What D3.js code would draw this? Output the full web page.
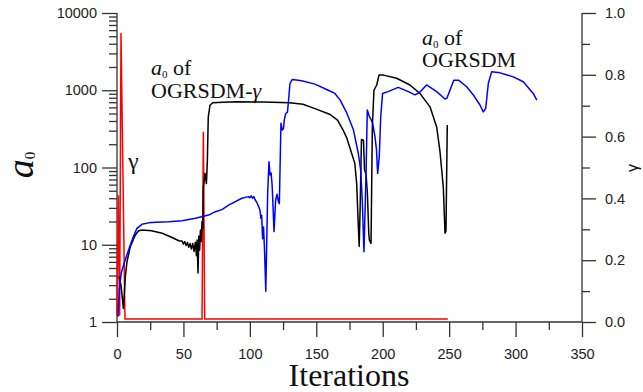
<!DOCTYPE html>
<html>
<head>
<meta charset="utf-8">
<script src="https://cdn.jsdelivr.net/npm/d3@7"></script>
<style>
  body { margin: 0; background: #fff; }
  svg { display: block; }
  .tick text { font-family: "Liberation Sans", Arial, sans-serif; font-size: 14.5px; fill: #222; }
  .tick line, .domain { stroke: #333; }
</style>
</head>
<body>
<div id="chart"></div>
<script>
// iteration ticks
var xMajorTicks = [0, 50, 100, 150, 200, 250, 300, 350];
var xMinorTicks = [25, 75, 125, 175, 225, 275, 325];
// a0 ticks (log)
var yMajorTicks = [1, 10, 100, 1000, 10000];
var yMinorTicks = [];
[1, 10, 100, 1000].forEach(function(d) { for (var k = 2; k <= 9; k++) yMinorTicks.push(d * k); });
// gamma ticks
var gMajorTicks = [0, 0.2, 0.4, 0.6, 0.8, 1.0];
var gMinorTicks = [0.1, 0.3, 0.5, 0.7, 0.9];

// a0 of OGRSDM-gamma  [iteration, a0]
var a0GammaSeries = [[1.5,3.9],[3,3.0],[4.8,1.5],[6.3,3.9],[7.5,6.0],[10,9.4],[13.8,13.4],[16.3,15.2],[19,15.5],
  [26,15.2],[34,14.1],[41,12.5],[47,11.2],[49,11.2],[50,10.2],[51,11],[52,9.8],[53,10.7],[54,9.3],[55,10.4],
  [56,8.8],[57,10.4],[58,8.2],[59,10.8],[59.8,7.2],[60.3,11.5],[61,4.3],[61.6,13],[62.2,8.5],[62.8,15.5],
  [63.4,11],[64,20],[64.6,16],[65,55],[66.2,84],[67.3,62],[68,120],[68.7,450],[70,640],[72,690],[80,700],
  [90,710],[110,705],[130,690],[140,660],[150,570],[160,490],[166,410],[170,310],[173,240],[176.6,153],
  [179,113],[180.4,62],[181.5,20],[182.3,9.5],[183,30],[184,230],[185.5,225],[186.3,95],[187.5,80],
  [188.5,45],[189.5,14],[190,11.5],[191.2,10.4],[192.2,335],[193.4,1000],[195.5,1170],[197.2,1570],
  [200.5,1570],[210.5,1430],[220.5,1170],[228,910],[235.6,610],[240.6,335],[243,167],[245.6,56],
  [246.9,14.1],[247.6,15],[248.6,355]];

// a0 of OGRSDM  [iteration, a0]
var a0Series = [[0.75,1.17],[1.7,2.6],[3.2,4.3],[5,5.5],[7.5,7.4],[10,9.9],[12.5,13],[15,16.3],[18.8,18.4],
  [23.8,19.2],[29,19.5],[39,19.9],[49,20.5],[59,22],[69,24.2],[74,26.8],[79,28.5],[84,32.5],[94,40],[99,42],
  [100,40.5],[101,43],[102,40],[103,42],[104,38],[105,36],[106,33],[107,30],[107.6,28],[108.3,22],[108.9,24],
  [109.6,12],[110.3,17],[111,9],[112,2.5],[113.4,46],[114.4,119],[115.2,80],[116,85],[116.8,58],[118.2,14.8],
  [119.4,38],[120.5,45],[121.5,36],[122.2,34],[123.4,375],[124.4,305],[125.3,320],[126,420],[127,500],
  [128.3,520],[129,700],[130.2,1230],[132,1380],[139,1330],[149,1200],[159,1000],[164,910],[168,745],
  [173,505],[178,305],[181.6,153],[183.4,93],[184.6,38],[185.9,8.1],[187.4,76],[188.4,555],[190,455],
  [191.2,420],[192.4,375],[194.2,250],[195.3,170],[196.2,84],[197.4,138],[198.5,450],[199.9,910],[204,960],
  [211.7,1090],[219.3,960],[224.3,870],[227.5,930],[233,1170],[240.6,960],[246.9,770],[248.3,790],
  [250.6,1000],[253.5,1350],[257,1350],[263.2,1110],[268.2,870],[273.2,645],[275.7,525],[277.5,580],
  [279.5,1230],[282,1730],[288.3,1680],[298.3,1490],[305.8,1290],[313.3,910],[316,745]];

// gamma  [iteration, gamma]
var gammaSeries = [[0,0.02],[1,0.41],[2,0.02],[3,0.935],[6,0.01],[64,0.01],[65,0.616],[66,0.01],[249,0.01]];

var W = 643, H = 392;
var svg = d3.select("#chart").append("svg").attr("width", W).attr("height", H);

var x = d3.scaleLinear().domain([0, 350]).range([117, 582]);
var y = d3.scaleLog().domain([1, 10000]).range([322, 13]);
var yg = d3.scaleLinear().domain([0, 1]).range([322, 13]);

// axes
function addAxis(axis, tf) {
  var g = svg.append("g").attr("transform", tf).call(axis);
  g.selectAll(".domain").remove();
  g.selectAll(".tick line").attr("stroke-width", 1.3);
  return g;
}
addAxis(d3.axisBottom(x).tickValues(xMajorTicks).tickSize(15).tickPadding(12).tickFormat(d3.format("d")), "translate(0,322)");
addAxis(d3.axisBottom(x).tickValues(xMinorTicks).tickSize(8).tickFormat(""), "translate(0,322)");
addAxis(d3.axisLeft(y).tickValues(yMajorTicks).tickSize(15).tickPadding(5).tickFormat(d3.format("d")), "translate(117,0)");
addAxis(d3.axisLeft(y).tickValues(yMinorTicks).tickSize(8).tickFormat(""), "translate(117,0)");
addAxis(d3.axisRight(yg).tickValues(gMajorTicks).tickSize(14).tickPadding(9).tickFormat(d3.format(".1f")), "translate(582,0)");
addAxis(d3.axisRight(yg).tickValues(gMinorTicks).tickSize(8).tickFormat(""), "translate(582,0)");

svg.append("line").attr("x1", 117).attr("x2", 582).attr("y1", 322).attr("y2", 322).attr("stroke", "#333").attr("stroke-width", 1.3);
svg.append("line").attr("x1", 117).attr("x2", 117).attr("y1", 13).attr("y2", 322).attr("stroke", "#333").attr("stroke-width", 1.3);
svg.append("line").attr("x1", 582).attr("x2", 582).attr("y1", 13).attr("y2", 322).attr("stroke", "#333").attr("stroke-width", 1.3);

// lines
var lineA = d3.line().x(function(d) { return x(d[0]); }).y(function(d) { return y(d[1]); });
var lineG = d3.line().x(function(d) { return x(d[0]); }).y(function(d) { return yg(d[1]); });

svg.append("path").datum(gammaSeries).attr("d", lineG).attr("fill", "none").attr("stroke", "#ff0000").attr("stroke-width", 1.5);
svg.append("path").datum(a0GammaSeries).attr("d", lineA).attr("fill", "none").attr("stroke", "#000").attr("stroke-width", 1.5).attr("stroke-linejoin", "round");
svg.append("path").datum(a0Series).attr("d", lineA).attr("fill", "none").attr("stroke", "#0000ff").attr("stroke-width", 1.5).attr("stroke-linejoin", "round");

// annotations
var serif = '"Liberation Serif", "Times New Roman", serif';
function a0Label(xp, yp, size, rest) {
  var t = svg.append("text").attr("x", xp).attr("y", yp).attr("font-family", serif).attr("font-size", size).attr("fill", "#111");
  t.append("tspan").attr("font-style", "italic").text("a");
  t.append("tspan").attr("font-size", size * 0.5).attr("dy", 3).text("0");
  t.append("tspan").attr("dy", -3).text(rest);
  return t;
}
a0Label(151, 75, 22, " of");
var t1 = svg.append("text").attr("x", 151).attr("y", 98).attr("font-family", serif).attr("font-size", 22).attr("fill", "#111");
t1.append("tspan").text("OGRSDM-");
t1.append("tspan").attr("font-style", "italic").text("γ");

a0Label(422, 45, 22, " of");
svg.append("text").attr("x", 422).attr("y", 67).attr("font-family", serif).attr("font-size", 22).attr("fill", "#111").text("OGRSDM");

svg.append("text").attr("x", 128).attr("y", 169).attr("font-family", serif).attr("font-size", 24).attr("fill", "#111").text("γ");

// axis titles
svg.append("text").attr("x", 349).attr("y", 386).attr("text-anchor", "middle")
  .attr("font-family", serif).attr("font-size", 32).attr("fill", "#111").text("Iterations");

var yt = svg.append("text").attr("transform", "translate(33,165) rotate(-90)").attr("text-anchor", "middle")
  .attr("font-family", serif).attr("font-size", 38).attr("fill", "#111");
yt.append("tspan").attr("font-style", "italic").text("a");
yt.append("tspan").attr("font-size", 15).attr("dy", 2).text("0");

svg.append("text").attr("transform", "translate(638,168) rotate(-90)").attr("text-anchor", "middle")
  .attr("font-family", '"Liberation Sans", Arial, sans-serif').attr("font-size", 16).attr("fill", "#111").text("γ");
</script>
</body>
</html>
